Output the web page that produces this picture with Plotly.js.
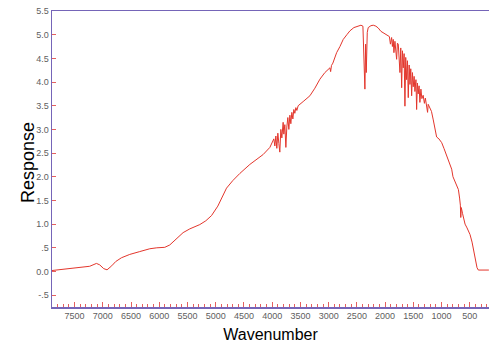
<!DOCTYPE html>
<html>
<head>
<meta charset="utf-8">
<script src="https://cdn.plot.ly/plotly-3.0.1.min.js"></script>
<style>
  html, body { margin: 0; padding: 0; background: #ffffff; }
  #chart { width: 489px; height: 344px; }
</style>
</head>
<body>
<div id="chart"></div>
<script>
// Single-beam response spectrum, wavenumber in cm^-1 (descending axis)
const wavenumber = [
  7900, 7764, 7498, 7232, 7113, 7055, 6984, 6925, 6842, 6771, 6670, 6523, 6346, 6168, 6044, 5903,
  5814, 5708, 5578, 5459, 5282, 5176, 5075, 4963, 4809, 4697, 4573, 4396, 4160, 4041, 3983,
  3971, 3953, 3935, 3918, 3900, 3882, 3865, 3847, 3829, 3806, 3794, 3776, 3758, 3741, 3723,
  3705, 3687, 3670, 3652, 3634, 3617, 3599, 3581, 3563, 3540,
  3439, 3332, 3244, 3155, 3067, 3013, 2978, 2965, 2950, 2925, 2859, 2800, 2742, 2677, 2624,
  2553, 2476, 2428, 2393, 2375, 2358, 2345, 2334, 2316, 2299, 2251, 2210, 2163, 2121, 2074,
  2033, 1985, 1945,
  1924, 1906, 1885, 1871, 1856, 1844, 1826, 1796, 1782, 1767, 1751, 1737, 1723, 1707, 1693,
  1679, 1663, 1649, 1635, 1619, 1604, 1590, 1574, 1560, 1546, 1530, 1516, 1502, 1486, 1472,
  1454, 1442, 1428, 1414, 1398, 1384, 1366, 1349, 1326, 1304, 1287, 1269, 1248, 1237,
  1206, 1179, 1147, 1117, 1088, 1047, 998, 958, 910, 869, 821, 798, 760, 725, 702, 681, 667,
  660, 651, 628, 584, 549, 496, 460, 437, 407, 372, 349, 283, 212, 162
];
const response = [
  0.02, 0.04, 0.07, 0.11, 0.17, 0.14, 0.06, 0.035, 0.12, 0.21, 0.29, 0.36, 0.42, 0.48, 0.50, 0.51,
  0.56, 0.67, 0.82, 0.90, 0.99, 1.07, 1.18, 1.38, 1.76, 1.92, 2.07, 2.26, 2.47, 2.62, 2.78,
  2.80, 2.65, 2.86, 2.60, 2.92, 2.70, 2.52, 3.00, 2.82, 3.15, 2.90, 3.10, 2.62, 3.05, 3.25,
  3.00, 3.30, 3.12, 3.36, 3.22, 3.42, 3.34, 3.46, 3.40, 3.50,
  3.60, 3.71, 3.87, 4.06, 4.20, 4.27, 4.30, 4.22, 4.35, 4.40, 4.62, 4.75, 4.90, 5.00, 5.08,
  5.15, 5.19, 5.20, 5.18, 4.60, 3.85, 4.80, 4.20, 5.05, 5.15, 5.19, 5.20, 5.18, 5.14, 5.07,
  5.04, 5.00, 4.98,
  4.96, 4.80, 4.94, 4.75, 4.90, 4.62, 4.86, 4.48, 4.82, 4.80, 4.45, 4.20, 4.72, 3.88, 4.66,
  4.30, 4.60, 3.49, 4.52, 4.05, 4.45, 3.67, 4.36, 3.95, 4.28, 3.71, 4.20, 3.90, 4.12, 3.80,
  4.05, 3.42, 3.98, 3.75, 3.92, 3.57, 3.85, 3.65, 3.72, 3.55, 3.66, 3.48, 3.36, 3.53,
  3.44, 3.38, 3.20, 2.98, 2.84, 2.80, 2.72, 2.60, 2.44, 2.32, 2.16, 2.00, 1.88, 1.80, 1.73, 1.55, 1.40,
  1.14, 1.35, 1.22, 1.00, 0.92, 0.78, 0.62, 0.47, 0.25, 0.08, 0.03, 0.03, 0.03, 0.03
];

// Axis tick positions and their printed labels
const yTickValues = [5.5, 5.0, 4.5, 4.0, 3.5, 3.0, 2.5, 2.0, 1.5, 1.0, 0.5, 0.0, -0.5];
const yTickLabels = ['5.5', '5.0', '4.5', '4.0', '3.5', '3.0', '2.5', '2.0', '1.5', '1.0', '.5', '0.0', '-.5'];
const xTickValues = [7500, 7000, 6500, 6000, 5500, 5000, 4500, 4000, 3500, 3000, 2500, 2000, 1500, 1000, 500];
const xTickLabels = xTickValues.map(String);

const axisLine = '#7565b8';
const tickRed = '#e46060';
const labelFont = { family: 'Liberation Sans, Arial, sans-serif', size: 9, color: '#606060' };
const titleFamily = 'Liberation Sans, Arial, sans-serif';

const trace = {
  x: wavenumber,
  y: response,
  type: 'scatter',
  mode: 'lines',
  line: { color: '#e3362c', width: 1 },
  hoverinfo: 'x+y'
};

const layout = {
  width: 489,
  height: 344,
  margin: { l: 52, r: 0, t: 11, b: 37 },
  paper_bgcolor: '#ffffff',
  plot_bgcolor: '#ffffff',
  showlegend: false,
  xaxis: {
    range: [7900, 160],
    tickmode: 'array',
    tickvals: xTickValues,
    ticktext: xTickLabels,
    ticks: 'inside',
    ticklen: 5,
    tickwidth: 1,
    tickcolor: tickRed,
    minor: { dtick: 100, tick0: 0, ticks: 'inside', ticklen: 3, tickcolor: tickRed, showgrid: false },
    showgrid: false,
    zeroline: false,
    showline: true,
    mirror: true,
    linecolor: axisLine,
    linewidth: 1.5,
    tickfont: labelFont,
    title: {
      text: 'Wavenumber',
      font: { family: titleFamily, size: 16, color: '#000000' },
      standoff: 8
    }
  },
  yaxis: {
    range: [-0.75, 5.5],
    tickmode: 'array',
    tickvals: yTickValues,
    ticktext: yTickLabels,
    ticks: 'inside',
    ticklen: 4,
    tickwidth: 1,
    tickcolor: tickRed,
    showgrid: false,
    zeroline: false,
    showline: true,
    mirror: false,
    linecolor: axisLine,
    linewidth: 1.5,
    tickfont: labelFont
  },
  // Vertical axis caption, placed beside the tick labels
  annotations: [{
    text: 'Response',
    xref: 'paper', yref: 'paper',
    x: -0.055, y: 0.49,
    xanchor: 'center', yanchor: 'middle',
    textangle: -90,
    showarrow: false,
    font: { family: titleFamily, size: 18, color: '#000000' }
  }]
};

Plotly.newPlot('chart', [trace], layout, { staticPlot: true, displayModeBar: false });
</script>
</body>
</html>
